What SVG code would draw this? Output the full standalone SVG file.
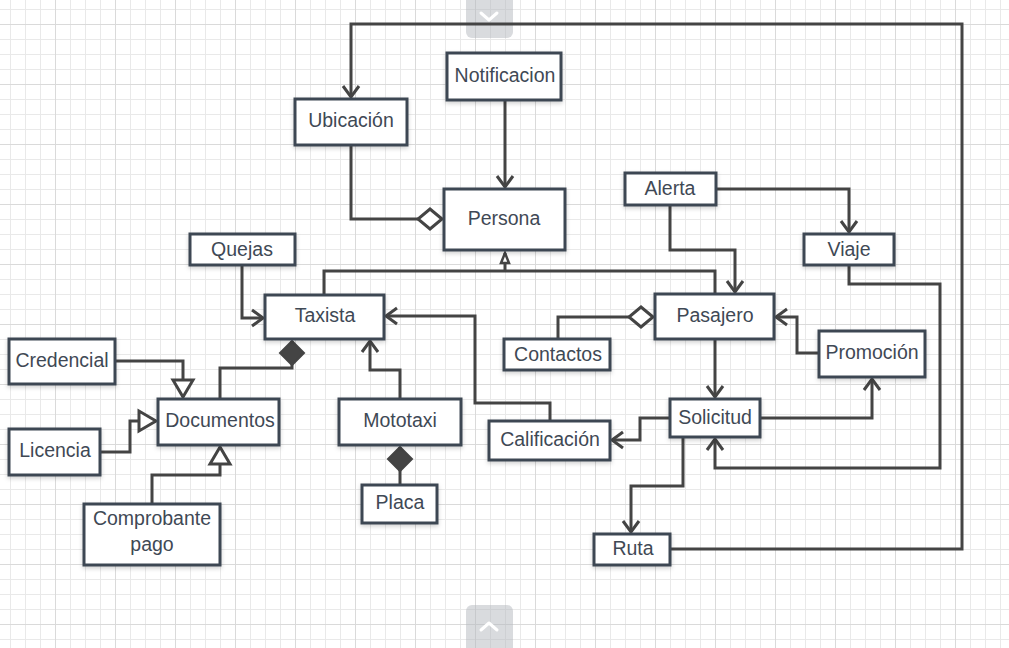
<svg xmlns="http://www.w3.org/2000/svg" width="1009" height="648" viewBox="0 0 1009 648">
  <style>
    .box rect { fill: #ffffff; stroke: #3d4752; stroke-width: 3; filter: url(#shadow); }
    .box text { font-family: "Liberation Sans", Arial, sans-serif; font-size: 19.5px; fill: #3f4955; text-anchor: middle; dominant-baseline: central; }
    #connectors path { fill: none; stroke: #444444; stroke-width: 3; }
    .open { marker-end: url(#open); }
    .agg { marker-end: url(#agg); }
    .comp { marker-end: url(#comp); }
    .gen { marker-end: url(#gen); }
    .gen-small { marker-end: url(#genSmall); }
    .pager rect { fill: #b4b8be; opacity: 0.5; }
    .pager path { fill: none; stroke: #ffffff; stroke-width: 3; stroke-linecap: round; stroke-linejoin: round; }
  </style>
  <defs>
    <pattern id="gridMinor" patternUnits="userSpaceOnUse" x="10" y="9" width="15" height="15">
      <rect x="0" y="0" width="1" height="15" fill="#e9e9e9"/>
      <rect x="0" y="0" width="15" height="1" fill="#e9e9e9"/>
    </pattern>
    <pattern id="gridMajor" patternUnits="userSpaceOnUse" x="55" y="24" width="60" height="60">
      <rect x="0" y="0" width="1" height="60" fill="#dadada"/>
      <rect x="0" y="0" width="60" height="1" fill="#dadada"/>
    </pattern>
    <filter id="shadow" x="-20%" y="-20%" width="140%" height="150%">
      <feDropShadow dx="0" dy="2" stdDeviation="2" flood-color="#000000" flood-opacity="0.18"/>
    </filter>
    <!-- open chevron arrowhead -->
    <marker id="open" markerUnits="userSpaceOnUse" viewBox="-14 -11 16 22" refX="0" refY="0" markerWidth="16" markerHeight="22" orient="auto" overflow="visible">
      <path d="M-11,-8 L0,0 L-11,8" fill="none" stroke="#444444" stroke-width="3"/>
    </marker>
    <!-- hollow diamond (aggregation) -->
    <marker id="agg" markerUnits="userSpaceOnUse" viewBox="-26 -10 28 20" refX="0" refY="0" markerWidth="28" markerHeight="20" orient="auto" overflow="visible">
      <path d="M0,0 L-12,-10 L-24,0 L-12,10 Z" fill="#ffffff" stroke="#444444" stroke-width="3"/>
    </marker>
    <!-- filled diamond (composition) -->
    <marker id="comp" markerUnits="userSpaceOnUse" viewBox="-26 -10 28 20" refX="0" refY="0" markerWidth="28" markerHeight="20" orient="auto" overflow="visible">
      <path d="M0,0 L-12,-12 L-24,0 L-12,12 Z" fill="#444444" stroke="#444444" stroke-width="2"/>
    </marker>
    <!-- hollow triangle (generalization) -->
    <marker id="gen" markerUnits="userSpaceOnUse" viewBox="-20 -12 22 24" refX="0" refY="0" markerWidth="22" markerHeight="24" orient="auto" overflow="visible">
      <path d="M0,0 L-17,-10 L-17,10 Z" fill="#ffffff" stroke="#444444" stroke-width="3"/>
    </marker>
    <marker id="genSmall" markerUnits="userSpaceOnUse" viewBox="-12 -6 14 12" refX="0" refY="0" markerWidth="14" markerHeight="12" orient="auto" overflow="visible">
      <path d="M0,0 L-10,-4 L-10,4 Z" fill="#ffffff" stroke="#444444" stroke-width="2.5"/>
    </marker>
  </defs>

  <!-- canvas grid -->
  <rect x="0" y="0" width="1009" height="648" fill="#ffffff"/>
  <rect x="0" y="0" width="1009" height="648" fill="url(#gridMinor)"/>
  <rect x="0" y="0" width="1009" height="648" fill="url(#gridMajor)"/>

  <!-- page toggles -->
  <g class="pager" id="pager-top">
    <rect x="466" y="-10" width="47" height="48" rx="6"/>
    <path d="M481,13 L489,20 L497,13"/>
  </g>
  <g class="pager" id="pager-bottom">
    <rect x="466" y="605" width="47" height="60" rx="6"/>
    <path d="M481,630 L489,623 L497,630"/>
  </g>

  <g id="connectors">
    <path class="open" d="M670,549 H962 V24 H351 V97"/>
    <path class="open" d="M505,100 V187"/>
    <path class="agg" d="M351,145 V219 H442"/>
    <path d="M324,295 V271 H715 V294"/>
    <path class="gen-small" d="M505,271 V253"/>
    <path class="open" d="M716,189 H849 V232"/>
    <path class="open" d="M670,205 V250 H735 V292"/>
    <path class="open" d="M849,265 V284 H940 V468 H715 V439"/>
    <path class="open" d="M242,265 V318 H263"/>
    <path class="open" d="M550,421 V403 H475 V316 H386"/>
    <path class="agg" d="M558,339 V317 H653"/>
    <path class="open" d="M819,353 H797 V317 H776"/>
    <path class="open" d="M715,339 V397"/>
    <path class="open" d="M670,418 H640 V440 H612"/>
    <path class="open" d="M760,418 H872 V379"/>
    <path class="open" d="M683,437 V486 H631 V532"/>
    <path class="comp" d="M220,399 V368 H292 V341"/>
    <path class="gen" d="M115,361 H183 V397"/>
    <path class="gen" d="M100,452 H130 V421 H156"/>
    <path class="gen" d="M152,504 V475 H220 V447"/>
    <path class="open" d="M400,399 V370 H370 V341"/>
    <path class="comp" d="M400,485 V447"/>
  </g>

  <g id="notificacion" class="box"><rect x="447" y="53" width="114" height="47"/><text x="505" y="75">Notificacion</text></g>
  <g id="ubicacion" class="box"><rect x="295" y="99" width="112" height="46"/><text x="351" y="120">Ubicación</text></g>
  <g id="persona" class="box"><rect x="444" y="189" width="121" height="61"/><text x="504" y="218">Persona</text></g>
  <g id="alerta" class="box"><rect x="625" y="173" width="91" height="32"/><text x="670" y="188">Alerta</text></g>
  <g id="viaje" class="box"><rect x="804" y="234" width="90" height="31"/><text x="849" y="249">Viaje</text></g>
  <g id="quejas" class="box"><rect x="190" y="234" width="105" height="31"/><text x="242" y="249">Quejas</text></g>
  <g id="taxista" class="box"><rect x="265" y="295" width="119" height="44"/><text x="325" y="315">Taxista</text></g>
  <g id="pasajero" class="box"><rect x="655" y="294" width="119" height="45"/><text x="715" y="315">Pasajero</text></g>
  <g id="contactos" class="box"><rect x="504" y="339" width="106" height="31"/><text x="558" y="354">Contactos</text></g>
  <g id="promocion" class="box"><rect x="819" y="331" width="106" height="46"/><text x="872" y="352">Promoción</text></g>
  <g id="credencial" class="box"><rect x="9" y="339" width="106" height="45"/><text x="62" y="360">Credencial</text></g>
  <g id="documentos" class="box"><rect x="158" y="399" width="121" height="46"/><text x="220" y="420">Documentos</text></g>
  <g id="licencia" class="box"><rect x="9" y="429" width="91" height="46"/><text x="55" y="450">Licencia</text></g>
  <g id="mototaxi" class="box"><rect x="339" y="399" width="122" height="46"/><text x="400" y="420">Mototaxi</text></g>
  <g id="placa" class="box"><rect x="362" y="485" width="75" height="38"/><text x="400" y="502">Placa</text></g>
  <g id="solicitud" class="box"><rect x="670" y="399" width="90" height="38"/><text x="715" y="417">Solicitud</text></g>
  <g id="calificacion" class="box"><rect x="489" y="421" width="121" height="39"/><text x="550" y="439">Calificación</text></g>
  <g id="comprobante" class="box"><rect x="84" y="504" width="136" height="61"/><text x="152" y="518">Comprobante</text><text x="152" y="544">pago</text></g>
  <g id="ruta" class="box"><rect x="594" y="534" width="76" height="31"/><text x="633" y="548">Ruta</text></g>
</svg>
